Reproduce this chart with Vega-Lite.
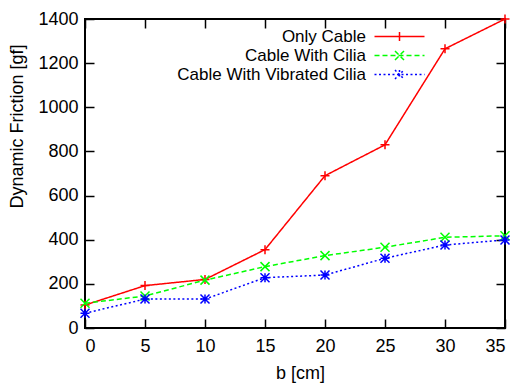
{
  "$schema": "https://vega.github.io/schema/vega-lite/v6.json",
  "width": 420,
  "height": 309,
  "autosize": {"type": "none"},
  "padding": {"left": 85, "top": 19, "right": 18, "bottom": 55},
  "background": "white",
  "config": {
    "view": {"stroke": "black", "strokeWidth": 2},
    "font": "Liberation Sans",
    "axis": {"grid": false, "domain": false, "tickColor": "black", "tickWidth": 1.5, "tickSize": 9, "offset": -9, "labelColor": "black", "titleColor": "black", "labelFontSize": 18, "titleFontSize": 18, "titleFontWeight": "normal", "labelFont": "Liberation Sans", "titleFont": "Liberation Sans"}
  },
  "data": {"values": [
    {"series": "Only Cable", "b": 0, "f": 104},
    {"series": "Only Cable", "b": 5, "f": 192},
    {"series": "Only Cable", "b": 10, "f": 220},
    {"series": "Only Cable", "b": 15, "f": 355},
    {"series": "Only Cable", "b": 20, "f": 690},
    {"series": "Only Cable", "b": 25, "f": 830},
    {"series": "Only Cable", "b": 30, "f": 1265},
    {"series": "Only Cable", "b": 35, "f": 1400},
    {"series": "Cable With Cilia", "b": 0, "f": 112},
    {"series": "Cable With Cilia", "b": 5, "f": 145},
    {"series": "Cable With Cilia", "b": 10, "f": 217},
    {"series": "Cable With Cilia", "b": 15, "f": 278},
    {"series": "Cable With Cilia", "b": 20, "f": 328},
    {"series": "Cable With Cilia", "b": 25, "f": 366},
    {"series": "Cable With Cilia", "b": 30, "f": 411},
    {"series": "Cable With Cilia", "b": 35, "f": 418},
    {"series": "Cable With Vibrated Cilia", "b": 0, "f": 67},
    {"series": "Cable With Vibrated Cilia", "b": 5, "f": 131},
    {"series": "Cable With Vibrated Cilia", "b": 10, "f": 131},
    {"series": "Cable With Vibrated Cilia", "b": 15, "f": 228},
    {"series": "Cable With Vibrated Cilia", "b": 20, "f": 240},
    {"series": "Cable With Vibrated Cilia", "b": 25, "f": 316},
    {"series": "Cable With Vibrated Cilia", "b": 30, "f": 376},
    {"series": "Cable With Vibrated Cilia", "b": 35, "f": 399}
  ]},
  "layer": [
    {
      "mark": {"type": "line", "strokeWidth": 1.5},
      "encoding": {
        "x": {"field": "b", "type": "quantitative", "scale": {"domain": [0, 35], "nice": false, "zero": false},
              "axis": {"orient": "bottom", "values": [0, 5, 10, 15, 20, 25, 30, 35], "labelPadding": 9, "labelDx": 7, "title": "b [cm]", "titleX": 215, "titleY": 54, "titleBaseline": "middle", "titleAnchor": null}},
        "y": {"field": "f", "type": "quantitative", "scale": {"domain": [0, 1400], "nice": false},
              "axis": {"orient": "left", "format": "d", "values": [0, 200, 400, 600, 800, 1000, 1200, 1400], "labelPadding": 7, "title": "Dynamic Friction [gf]", "titleX": -77, "titleY": 107, "titleAngle": -90, "titleAlign": "center", "titleBaseline": "middle", "titleAnchor": null}},
        "color": {"field": "series", "type": "nominal",
                  "scale": {"domain": ["Only Cable", "Cable With Cilia", "Cable With Vibrated Cilia"], "range": ["#ff0000", "#00ff00", "#0000ff"]},
                  "legend": {"title": null, "orient": "none", "legendX": 306, "legendY": 9, "padding": 0, "rowPadding": 1,
                             "labelAlign": "right", "labelOffset": -42, "symbolOffset": 0, "symbolSize": 100, "labelFontSize": 17, "labelFont": "Liberation Sans", "labelColor": "black", "labelLimit": 400, "symbolStrokeWidth": 1.5,
                             "encode": {"symbols": {"update": {
                               "shape": {"signal": "datum.value === 'Only Cable' ? 'M-5,0H5M0,-0.9V0.9' : datum.value === 'Cable With Cilia' ? 'M-5,0H5M-0.9,-0.9L0.9,0.9M-0.9,0.9L0.9,-0.9' : 'M-5,0H5M0,-0.9V0.9M-0.9,-0.9L0.9,0.9M-0.9,0.9L0.9,-0.9'"},
                               "fill": {"value": "transparent"}}}}}},
        "strokeDash": {"field": "series", "type": "nominal",
                       "scale": {"domain": ["Only Cable", "Cable With Cilia", "Cable With Vibrated Cilia"], "range": [[1, 0], [5, 3], [2, 2.5]]}}
      }
    },
    {
      "transform": [{"filter": "datum.series === 'Only Cable'"}],
      "mark": {"type": "point", "filled": false, "strokeWidth": 1.5, "size": 81, "opacity": 1, "color": "#ff0000", "shape": "M-1,0H1M0,-1V1"},
      "encoding": {
        "x": {"field": "b", "type": "quantitative", "axis": {"orient": "top", "values": [0, 5, 10, 15, 20, 25, 30, 35], "labels": false, "title": null}},
        "y": {"field": "f", "type": "quantitative", "axis": {"orient": "right", "values": [0, 200, 400, 600, 800, 1000, 1200, 1400], "labels": false, "title": null}}
      }
    },
    {
      "transform": [{"filter": "datum.series === 'Cable With Cilia'"}],
      "mark": {"type": "point", "filled": false, "strokeWidth": 1.5, "size": 81, "opacity": 1, "color": "#00ff00", "shape": "M-1,-1L1,1M-1,1L1,-1"},
      "encoding": {
        "x": {"field": "b", "type": "quantitative", "axis": null},
        "y": {"field": "f", "type": "quantitative", "axis": null}
      }
    },
    {
      "transform": [{"filter": "datum.series === 'Cable With Vibrated Cilia'"}],
      "mark": {"type": "point", "filled": false, "strokeWidth": 1.5, "size": 81, "opacity": 1, "color": "#0000ff", "shape": "M0,-1V1M-1,-1L1,1M-1,1L1,-1M-1,0H1"},
      "encoding": {
        "x": {"field": "b", "type": "quantitative", "axis": null},
        "y": {"field": "f", "type": "quantitative", "axis": null}
      }
    }
  ],
  "resolve": {"axis": {"x": "independent", "y": "independent"}}
}
